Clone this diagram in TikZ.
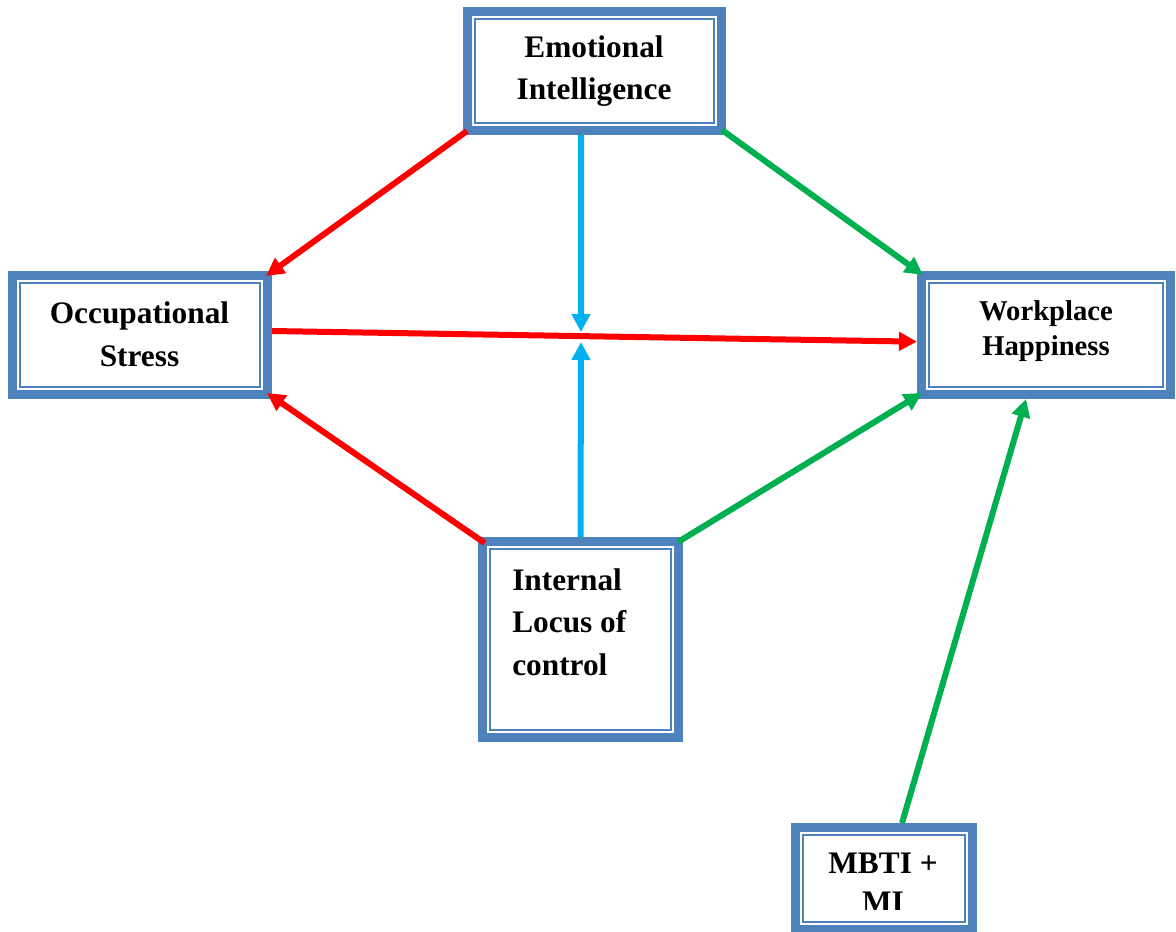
\documentclass[tikz,border=0pt]{standalone}
\usepackage{fontspec}
\setmainfont{Liberation Serif}
\usetikzlibrary{arrows.meta}
\definecolor{boxblue}{RGB}{79,129,189}
\definecolor{arrred}{RGB}{255,0,0}
\definecolor{arrgreen}{RGB}{0,176,80}
\definecolor{arrcyan}{RGB}{0,176,240}
\begin{document}
\begin{tikzpicture}[x=0.75pt,y=-0.75pt,
  box/.style={draw=boxblue,line width=6.75pt,fill=white,inner sep=0pt},
  innerline/.style={draw=boxblue,line width=1.5pt},
  lbl/.style={font=\bfseries\fontsize{23.5}{32}\selectfont,inner sep=0pt,align=center},
  conn/.style={line width=4.5pt,-{Triangle[length=13.5pt,width=13.5pt]}}
]
\useasboundingbox (0,0) rectangle (1176,931);

% boxes
\node[box,minimum width=190.5pt,minimum height=89.25pt] (ei) at (594.5,71) {};
\node[box,minimum width=191.25pt,minimum height=89.25pt] (os) at (140,335) {};
\node[box,minimum width=186.75pt,minimum height=89.25pt] (wh) at (1046,335) {};
\node[box,minimum width=147pt,minimum height=147pt] (ilc) at (580.5,639.5) {};
\node[box,minimum width=132.75pt,minimum height=76.5pt] (mbti) at (884,878.5) {};
\foreach \n in {ei,os,wh,ilc,mbti}
  \draw[innerline] ([shift={(9pt,-9pt)}]\n.north west) rectangle ([shift={(-9pt,9pt)}]\n.south east);

% texts
\node[lbl] (eiT) at (594,71) {Emotional\\Intelligence};
\node[lbl] (osT) at (139.5,334) {Occupational\\Stress};
\node[lbl,font=\bfseries\fontsize{21.5}{26.5}\selectfont] (whT) at (1046,331) {Workplace\\Happiness};
\node[lbl,align=left,anchor=west] (ilcT) at (512,622) {Internal\\Locus of\\control};
\begin{scope}
  \clip (791,823) rectangle (977,909);
  \node[lbl,font=\bfseries\fontsize{23.5}{29}\selectfont] (mbtiT) at (883,883) {MBTI +\\MI};
\end{scope}

% connectors
\coordinate (mA) at (581,332);
\coordinate (mB) at (581,342);
\draw[conn,arrred] ([shift={(3pt,3pt)}]ei.south west) -- ([shift={(-4.5pt,-3.75pt)}]os.north east);
\draw[conn,arrred] ([yshift=3pt]os.east) -- ([yshift=-5pt]wh.west);
\draw[conn,arrred] ([shift={(5pt,-4.5pt)}]ilc.north west) -- ([shift={(-3.75pt,4.5pt)}]os.south east);
\draw[conn,arrcyan] ([xshift=-10pt]ei.south) -- (mA);
\draw[conn,arrcyan] (ilc.north) -- (mB);
\draw[conn,arrgreen] ([shift={(-3pt,3.75pt)}]ei.south east) -- ([shift={(4.5pt,-3pt)}]wh.north west);
\draw[conn,arrgreen] ([shift={(-3.75pt,-3.75pt)}]ilc.north east) -- ([shift={(3.75pt,4.5pt)}]wh.south west);
\draw[conn,arrgreen] ([xshift=13.5pt]mbti.north) -- ([xshift=-15pt]wh.south);
\end{tikzpicture}
\end{document}
